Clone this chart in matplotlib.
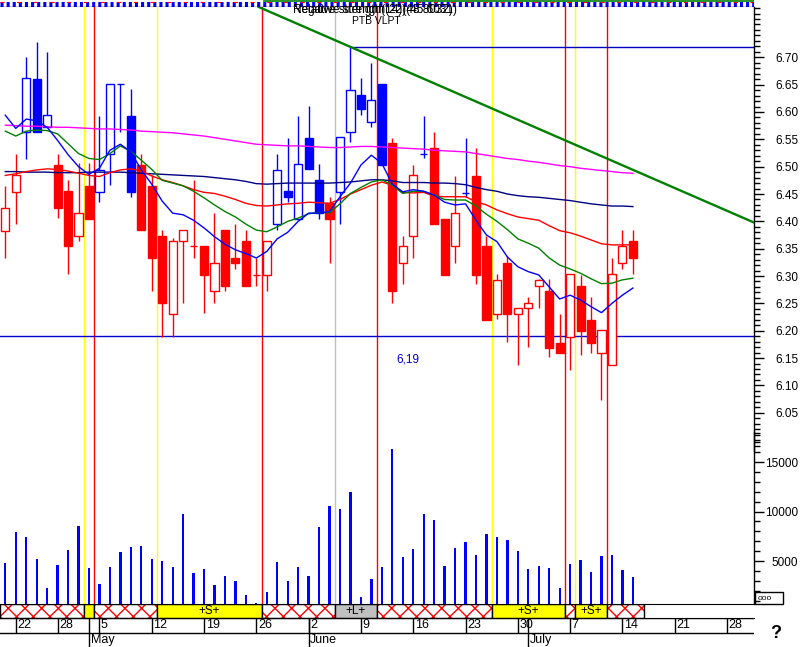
import matplotlib
matplotlib.use('Agg')
import matplotlib.pyplot as plt
from matplotlib.patches import Rectangle
from matplotlib.ticker import FixedLocator, FormatStrFormatter
import numpy as np

plt.rcParams['font.family'] = ['Liberation Sans', 'DejaVu Sans']
plt.rcParams['hatch.linewidth'] = 1.0
plt.rcParams['lines.scale_dashes'] = False

# ---------------- data ----------------
opens  = [6.383, 6.454, 6.563, 6.660, 6.573, 6.503, 6.455, 6.374, 6.465, 6.454,
          6.524, 6.651, 6.593, 6.503, 6.465, 6.373, 6.230, 6.364, 6.355, 6.354,
          6.273, 6.384, 6.333, 6.364, 6.302, 6.302, 6.395, 6.455, 6.404, 6.553,
          6.476, 6.434, 6.454, 6.563, 6.631, 6.582, 6.651, 6.544, 6.323, 6.374,
          6.524, 6.535, 6.404, 6.354, 6.452, 6.483, 6.354, 6.231, 6.323, 6.231,
          6.241, 6.282, 6.273, 6.177, 6.189, 6.282, 6.219, 6.159, 6.137, 6.323,
          6.364]
highs  = [6.465, 6.523, 6.701, 6.728, 6.710, 6.524, 6.476, 6.506, 6.506, 6.593,
          6.651, 6.651, 6.642, 6.523, 6.485, 6.384, 6.370, 6.384, 6.476, 6.354,
          6.415, 6.384, 6.395, 6.384, 6.333, 6.364, 6.523, 6.553, 6.593, 6.611,
          6.504, 6.445, 6.554, 6.719, 6.662, 6.689, 6.651, 6.553, 6.373, 6.503,
          6.593, 6.563, 6.404, 6.483, 6.553, 6.535, 6.373, 6.303, 6.337, 6.241,
          6.261, 6.294, 6.294, 6.231, 6.303, 6.302, 6.261, 6.201, 6.333, 6.384,
          6.384]
lows   = [6.333, 6.395, 6.514, 6.563, 6.573, 6.406, 6.304, 6.364, 6.404, 6.436,
          6.466, 6.564, 6.445, 6.384, 6.273, 6.189, 6.189, 6.251, 6.333, 6.232,
          6.251, 6.273, 6.313, 6.282, 6.282, 6.273, 6.384, 6.435, 6.404, 6.495,
          6.404, 6.324, 6.396, 6.546, 6.594, 6.573, 6.503, 6.251, 6.285, 6.333,
          6.515, 6.395, 6.302, 6.324, 6.445, 6.285, 6.220, 6.221, 6.180, 6.137,
          6.170, 6.242, 6.152, 6.159, 6.128, 6.155, 6.159, 6.073, 6.137, 6.312,
          6.303]
closes = [6.424, 6.485, 6.662, 6.563, 6.594, 6.425, 6.354, 6.415, 6.404, 6.494,
          6.651, 6.651, 6.454, 6.384, 6.333, 6.251, 6.364, 6.384, 6.355, 6.302,
          6.323, 6.282, 6.323, 6.282, 6.302, 6.364, 6.494, 6.445, 6.505, 6.495,
          6.415, 6.404, 6.554, 6.641, 6.605, 6.622, 6.503, 6.273, 6.354, 6.485,
          6.524, 6.395, 6.302, 6.415, 6.452, 6.302, 6.220, 6.293, 6.231, 6.241,
          6.250, 6.293, 6.169, 6.159, 6.303, 6.200, 6.178, 6.201, 6.303, 6.354,
          6.333]
candle_colors = ['r', 'r', 'b', 'b', 'b', 'r', 'r', 'r', 'r', 'b',
                 'b', 'b', 'b', 'r', 'r', 'r', 'r', 'r', 'r', 'r',
                 'r', 'r', 'r', 'r', 'r', 'r', 'b', 'b', 'b', 'b',
                 'b', 'r', 'b', 'b', 'b', 'b', 'b', 'r', 'r', 'r',
                 'b', 'r', 'r', 'r', 'b', 'r', 'r', 'r', 'r', 'r',
                 'r', 'r', 'r', 'r', 'r', 'r', 'r', 'r', 'r', 'r',
                 'r']
volumes = [4820, 7935, 7420, 5200, 2230, 4590, 6100, 8500, 4250, 2660,
           4420, 5900, 6400, 6510, 5200, 4990, 4420, 9760, 3780, 4180,
           2560, 3480, 2970, 1550, 740, 1850, 4900, 2970, 4420, 3480,
           8440, 10560, 10220, 11970, 1310, 3140, 4390, 16330, 5370, 6200,
           9760, 9150, 4490, 6300, 6880, 5570, 7700, 7430, 7140, 6020,
           4160, 4490, 4290, 2260, 4690, 5090, 3880, 5500, 5600, 4080,
           3370]
ma_blue = [6.594, 6.570, 6.587, 6.584, 6.572, 6.548, 6.522, 6.500, 6.486, 6.497,
           6.530, 6.541, 6.527, 6.494, 6.468, 6.437, 6.415, 6.412, 6.402, 6.388,
           6.372, 6.358, 6.348, 6.341, 6.333, 6.345, 6.368, 6.380, 6.400, 6.415,
           6.415, 6.418, 6.445, 6.470, 6.503, 6.521, 6.506, 6.468, 6.454, 6.458,
           6.455, 6.448, 6.435, 6.430, 6.432, 6.402, 6.375, 6.363, 6.335, 6.317,
           6.308, 6.302, 6.280, 6.258, 6.265, 6.256, 6.244, 6.233, 6.250, 6.265,
           6.278]
ma_green = [6.565, 6.556, 6.565, 6.567, 6.566, 6.560, 6.542, 6.524, 6.515, 6.513,
            6.524, 6.538, 6.528, 6.512, 6.495, 6.475, 6.470, 6.465, 6.455, 6.443,
            6.430, 6.418, 6.408, 6.395, 6.384, 6.381, 6.390, 6.400, 6.406, 6.414,
            6.416, 6.416, 6.432, 6.451, 6.462, 6.472, 6.476, 6.466, 6.451, 6.455,
            6.455, 6.448, 6.440, 6.439, 6.439, 6.428, 6.413, 6.400, 6.385, 6.368,
            6.360, 6.351, 6.333, 6.320, 6.313, 6.305, 6.295, 6.286, 6.287, 6.293,
            6.296]
ma_red = [6.484, 6.487, 6.491, 6.494, 6.496, 6.495, 6.492, 6.488, 6.484, 6.482,
          6.489, 6.494, 6.496, 6.492, 6.483, 6.476, 6.471, 6.465, 6.458, 6.453,
          6.451, 6.446, 6.440, 6.433, 6.429, 6.428, 6.430, 6.432, 6.433, 6.435,
          6.434, 6.433, 6.440, 6.450, 6.458, 6.466, 6.472, 6.466, 6.453, 6.452,
          6.453, 6.446, 6.445, 6.445, 6.445, 6.436, 6.430, 6.421, 6.414, 6.408,
          6.405, 6.402, 6.392, 6.383, 6.379, 6.373, 6.366, 6.359, 6.357, 6.357,
          6.357]
ma_navy = [6.491, 6.491, 6.490, 6.490, 6.490, 6.489, 6.489, 6.489, 6.490, 6.490,
           6.490, 6.490, 6.489, 6.488, 6.487, 6.486, 6.485, 6.484, 6.483, 6.482,
           6.480, 6.478, 6.476, 6.473, 6.469, 6.468, 6.469, 6.470, 6.470, 6.470,
           6.470, 6.470, 6.471, 6.472, 6.474, 6.476, 6.476, 6.474, 6.471, 6.471,
           6.471, 6.470, 6.470, 6.469, 6.467, 6.462, 6.458, 6.455, 6.450, 6.447,
           6.445, 6.444, 6.442, 6.440, 6.438, 6.435, 6.432, 6.430, 6.428, 6.428,
           6.427]
ma_magenta = [6.576, 6.575, 6.574, 6.574, 6.573, 6.572, 6.572, 6.571, 6.570, 6.569,
              6.569, 6.568, 6.567, 6.565, 6.564, 6.563, 6.562, 6.560, 6.558, 6.556,
              6.553, 6.550, 6.547, 6.544, 6.541, 6.540, 6.539, 6.538, 6.538, 6.537,
              6.536, 6.535, 6.535, 6.536, 6.537, 6.537, 6.536, 6.535, 6.534, 6.533,
              6.532, 6.530, 6.529, 6.528, 6.527, 6.524, 6.521, 6.518, 6.515, 6.513,
              6.510, 6.508, 6.505, 6.502, 6.500, 6.497, 6.495, 6.493, 6.491, 6.489,
              6.488]
trend_points = [(33, 6.719), (70, 6.411)]
high_line = 6.719
support_line = 6.19
support_text = '6,19'
signal_pos = [7.5, 8.5, 14.5, 24.5, 31.5, 35.5, 46.5, 53.5, 54.5, 57.5]
signal_col = ['#FFFF00', '#FF0000', '#FFFF00', '#FF0000', '#C0C0C0',
              '#FF0000', '#FFFF00', '#FF0000', '#FFFF00', '#FF0000']
band_edges = [-0.5, 7.5, 8.5, 14.5, 24.5, 31.5, 35.5, 46.5, 53.5, 54.5, 57.5, 61.1]
band_kind = ['h', 'y', 'h', 'S', 'h', 'L', 'h', 'S', 'h', 'S', 'h']
day_idx = [1, 5, 9, 14, 19, 24, 29, 34, 39, 44, 49, 54, 59, 64, 69]
day_lbl = ['22', '28', '5', '12', '19', '26', '2', '9', '16', '23', '30', '7', '14', '21', '28']
month_idx = [8, 29, 50]
month_lbl = ['May', 'June', 'July']
price_ticks = [6.05, 6.10, 6.15, 6.20, 6.25, 6.30, 6.35, 6.40, 6.45, 6.50, 6.55, 6.60, 6.65, 6.70]
vol_ticks = [5000, 10000, 15000]
title_texts = ['Relative strength(14)(48.8032)', 'Negative strength(22)(45.6031)']
subtitle_text = 'PTB VLPT'

# ---------------- layout ----------------
W, H = 801, 647
fig = plt.figure(figsize=(W / 100, H / 100), dpi=100)
fig.patch.set_facecolor('white')

def ax_px(x0, y0, x1, y1):
    return fig.add_axes([x0 / W, 1 - y1 / H, (x1 - x0) / W, (y1 - y0) / H])

XL = (-0.507, 71.58)
PY = (5.7002, 6.792)
VY = (648, 61070)
n = len(closes)
idx = np.arange(n)

def style_right(a, bounds):
    for s in ['top', 'left', 'bottom']:
        a.spines[s].set_visible(False)
    a.spines['right'].set_bounds(*bounds)
    a.spines['right'].set_linewidth(1)
    a.yaxis.tick_right()
    a.set_xticks([])
    a.tick_params(axis='y', which='major', length=7, width=1, pad=25, labelsize=8.5)
    a.tick_params(axis='y', which='minor', length=4, width=1)

# volume axes (below)
axv = ax_px(0, 7, 754, 604)
axv.set_xlim(*XL)
axv.set_ylim(*VY)
axv.bar(idx, volumes, width=0.22, color='#0000FF', zorder=2)
axv.yaxis.set_major_locator(FixedLocator(vol_ticks))
axv.yaxis.set_minor_locator(FixedLocator(list(range(1000, 18001, 1000))))
axv.yaxis.set_major_formatter(FormatStrFormatter('%d'))
style_right(axv, (648, 18060))
for t in axv.get_yticklabels():
    t.set_horizontalalignment('right')

# price axes (on top)
ax = ax_px(0, 7, 754, 604)
ax.set_facecolor('none')
ax.set_xlim(*XL)
ax.set_ylim(*PY)
ax.yaxis.set_major_locator(FixedLocator(price_ticks))
ax.yaxis.set_minor_locator(FixedLocator(list(np.round(np.arange(5.99, 6.795, 0.01), 2))))
ax.yaxis.set_major_formatter(FormatStrFormatter('%.2f'))
style_right(ax, (5.98, PY[1]))
for t in ax.get_yticklabels():
    t.set_horizontalalignment('right')

for p, c in zip(signal_pos, signal_col):
    ax.axvline(p, color=c, lw=1, zorder=1)

ax.axhline(support_line, color='#0000CD', lw=1, zorder=2)
ax.hlines(high_line, 33, XL[1], color='#0000C0', lw=1, zorder=2)
ax.text(37.35, 6.148, support_text, color='#0000CD', fontsize=8.5, va='center', ha='left')

cmap = {'r': '#FF0000', 'b': '#0000FF'}
bw = 0.78
for i in range(n):
    o, h, l, c = opens[i], highs[i], lows[i], closes[i]
    col = cmap[candle_colors[i]]
    ax.vlines(i, l, h, color=col, lw=1, zorder=3)
    if abs(o - c) < 1e-9:
        ax.hlines(o, i - 0.36, i + 0.36, color=col, lw=1, zorder=4)
    else:
        fc = col if c < o else 'white'
        ax.add_patch(Rectangle((i - bw / 2, min(o, c)), bw, abs(c - o),
                               facecolor=fc, edgecolor=col, lw=1, zorder=4))

ax.plot(idx, ma_magenta, color='#FF00FF', lw=1, zorder=5)
ax.plot(idx, ma_navy, color='#000080', lw=1, zorder=5)
ax.plot(idx, ma_red, color='#FF0000', lw=1, zorder=5)
ax.plot(idx, ma_green, color='#008000', lw=1, zorder=5)
ax.plot(idx, ma_blue, color='#0000FF', lw=1, zorder=5)
ax.axline(trend_points[0], trend_points[1], color='#008000', lw=1.7, zorder=6)

# band
axb = ax_px(0, 604, 754, 618)
axb.set_xlim(*XL)
axb.set_ylim(0, 1)
axb.set_xticks([]); axb.set_yticks([])
for s in ['left', 'right']:
    axb.spines[s].set_visible(False)
for k in range(len(band_kind)):
    x0, x1 = band_edges[k], band_edges[k + 1]
    kind = band_kind[k]
    if kind == 'h':
        axb.add_patch(Rectangle((x0, 0), x1 - x0, 1, facecolor='white', edgecolor='#FF0000',
                                hatch='xx', lw=0))
    else:
        fc = '#C0C0C0' if kind == 'L' else '#FFFF00'
        axb.add_patch(Rectangle((x0, 0), x1 - x0, 1, facecolor=fc, lw=0))
        if kind in ('S', 'L'):
            axb.text((x0 + x1) / 2, 0.5, '+%s+' % kind, ha='center', va='center', fontsize=8.5)
    axb.add_patch(Rectangle((x0, 0), x1 - x0, 1, fill=False, edgecolor='black', lw=1))

# date axis
axd = ax_px(0, 618, 754, 647)
axd.set_xlim(*XL)
axd.set_ylim(0, 1)
axd.axis('off')
mid = (647 - 633) / 29
axd.axhline(mid, color='black', lw=1)
axd.axhline(1, color='black', lw=1)
for i, lb in zip(day_idx, day_lbl):
    axd.vlines(i, mid, 1, color='black', lw=1)
    axd.text(i + 0.15, (1 + mid) / 2, lb, ha='left', va='center', fontsize=9)
for i, lb in zip(month_idx, month_lbl):
    axd.vlines(i, 0, 1, color='black', lw=1)
    axd.text(i + 0.15, mid / 2, lb, ha='left', va='center', fontsize=9)

# top stripe
axt = ax_px(0, 0, 754, 7)
axt.set_xlim(0, 1); axt.set_ylim(0, 7)
axt.axis('off')
axt.plot([0, 1], [3.5, 3.5], color='#0000FF', lw=3.6, dashes=(2.2, 2.2), solid_capstyle='butt')
axt.plot([0, 1], [5.5, 5.5], color='#FF0000', lw=0.8, dashes=(3, 9))
axt.plot([0.35, 1], [6.3, 6.3], color='#008000', lw=1.2)
axt.plot([0, 1], [0.5, 0.5], color='black', lw=1.0)

fig.text(293 / W, 1 - 9.5 / H, title_texts[0], fontsize=8.5, va='center', ha='left')
fig.text(293 / W, 1 - 9.5 / H, title_texts[1], fontsize=8.5, va='center', ha='left')
fig.text(376 / W, 1 - 20.5 / H, subtitle_text, fontsize=7.5, va='center', ha='center')
fig.text(776 / W, 1 - 634 / H, '?', fontsize=13, fontweight='bold', ha='center', va='center')
fig.patches.append(Rectangle((755 / W, 1 - 604 / H), 28 / W, 12 / H, fill=False,
                             edgecolor='black', lw=1, transform=fig.transFigure))
fig.text(758 / W, 1 - 598 / H, 'ooo', fontsize=6, ha='left', va='center')

fig.savefig('out.png', dpi=100)
